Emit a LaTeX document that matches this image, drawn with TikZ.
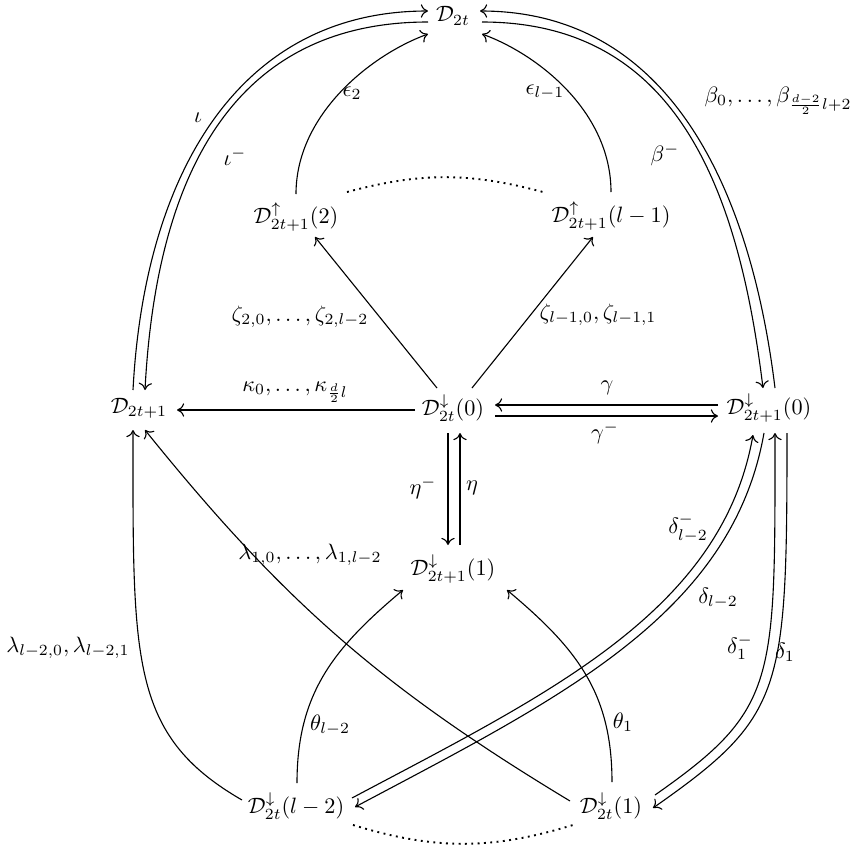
\documentclass[tikz,border=0pt]{standalone}
\usetikzlibrary{arrows.meta,calc}
\begin{document}
\begin{tikzpicture}[x=0.45pt,y=0.45pt,
  every node/.style={inner sep=0pt},
  arr/.style={-{Computer Modern Rightarrow[length=3.2pt,width=6pt]}, line width=0.5pt},
  dotarc/.style={dotted, line width=0.85pt},
]
\useasboundingbox (0,0) rectangle (863,-856);
% objects
\node (A)  at (453,-16)  {$\mathcal{D}_{2t}$};
\node (U2) at (296,-217) {$\mathcal{D}^{\uparrow}_{2t+1}(2)$};
\node (Ul) at (611,-216) {$\mathcal{D}^{\uparrow}_{2t+1}(l-1)$};
\node (L)  at (139,-408) {$\mathcal{D}_{2t+1}$};
\node (C)  at (453,-408) {$\mathcal{D}^{\downarrow}_{2t}(0)$};
\node (R)  at (769,-408) {$\mathcal{D}^{\downarrow}_{2t+1}(0)$};
\node (M)  at (453,-569) {$\mathcal{D}^{\downarrow}_{2t+1}(1)$};
\node (B2) at (296,-806) {$\mathcal{D}^{\downarrow}_{2t}(l-2)$};
\node (B1) at (611,-806) {$\mathcal{D}^{\downarrow}_{2t}(1)$};
% top arcs
\draw[arr] ($(L)+(-6,18)$) .. controls +(87:215) and +(180:190) .. ($(A)+(-25,5)$);
\draw[arr] ($(A)+(-25,-6)$) .. controls +(180:195) and +(87:215) .. ($(L)+(6,18)$);
\draw[arr] ($(U2)+(0,23)$) .. controls +(90:80) and +(-160:60) .. ($(A)+(-25,-18)$);
\draw[arr] ($(Ul)+(0,24)$) .. controls +(90:80) and +(-20:60) .. ($(A)+(29,-18)$);
\draw[arr] ($(R)+(6,20)$) .. controls +(97:200) and +(0:190) .. ($(A)+(27,5)$);
\draw[arr] ($(A)+(29,-6)$) .. controls +(0:195) and +(97:200) .. ($(R)+(-6,20)$);
\draw[dotarc] ($(U2)+(51,25)$) to[bend left=15] ($(Ul)+(-68,24)$);
% middle
\draw[arr] ($(C)+(-16,20)$) -- ($(U2)+(19,-20)$);
\draw[arr] ($(C)+(19,20)$) -- ($(Ul)+(-18,-21)$);
\draw[arr] ($(C)+(-38,-2)$) -- ($(L)+(38,-2)$);
\draw[arr] ($(R)+(-51,3)$) -- ($(C)+(42,3)$);
\draw[arr] ($(C)+(42,-8)$) -- ($(R)+(-51,-8)$);
\draw[arr] ($(M)+(7,24)$) -- ($(C)+(7,-25)$);
\draw[arr] ($(C)+(-5,-25)$) -- ($(M)+(-5,24)$);
% lower
\draw[arr] ($(B1)+(-41,5)$) to[bend left=10] ($(L)+(6,-22)$);
\draw[arr] ($(B2)+(-54,6)$) .. controls +(150:130) and +(-90:230) .. ($(L)+(-6,-22)$);
\draw[arr] ($(B2)+(1,23)$) .. controls +(90:90) and +(-140:90) .. ($(M)+(-50,-21)$);
\draw[arr] ($(B1)+(1,24)$) .. controls +(90:90) and +(-40:90) .. ($(M)+(54,-21)$);
\draw[arr] ($(B2)+(56,8)$) .. controls +(28:220) and +(-100:180) .. ($(R)+(-16,-27)$);
\draw[arr] ($(R)+(-5,-25)$) .. controls +(-100:185) and +(28:230) .. ($(B2)+(59,-1)$);
\draw[arr] ($(B1)+(44,11)$) .. controls +(35:150) and +(-90:250) .. ($(R)+(6,-25)$);
\draw[arr] ($(R)+(18,-25)$) .. controls +(-90:260) and +(35:160) .. ($(B1)+(42,-2)$);
\draw[dotarc] ($(B2)+(57,-19)$) to[bend right=17] ($(B1)+(-38,-19)$);
% labels
\node (liota)  at (198,-118) {$\iota$};
\node (liotam) at (235,-157) {$\iota^{-}$};
\node (leps2)  at (352,-93)  {$\epsilon_2$};
\node (lepsl)  at (545,-92)  {$\epsilon_{l-1}$};
\node (lbeta)  at (778,-101) {$\beta_0,\ldots,\beta_{\frac{d-2}{2}l+2}$};
\node (lbetam) at (665,-155) {$\beta^{-}$};
\node (lzeta2) at (300,-317) {$\zeta_{2,0},\ldots,\zeta_{2,l-2}$};
\node (lzetal) at (598,-315) {$\zeta_{l-1,0},\zeta_{l-1,1}$};
\node (lkappa) at (295,-392) {$\kappa_0,\ldots,\kappa_{\frac{d}{2}l}$};
\node (lgamma) at (607,-388) {$\gamma$};
\node (lgammam) at (605,-433) {$\gamma^{-}$};
\node (letam)  at (423,-488) {$\eta^{-}$};
\node (leta)   at (472,-488) {$\eta$};
\node (llam1)  at (310,-555) {$\lambda_{1,0},\ldots,\lambda_{1,l-2}$};
\node (llaml)  at (68,-648)  {$\lambda_{l-2,0},\lambda_{l-2,1}$};
\node (lthl)   at (330,-725) {$\theta_{l-2}$};
\node (lth1)   at (623,-722) {$\theta_1$};
\node (ldelm)  at (688,-528) {$\delta^{-}_{l-2}$};
\node (ldel)   at (718,-598) {$\delta_{l-2}$};
\node (ldel1m) at (740,-647) {$\delta^{-}_{1}$};
\node (ldel1)  at (785,-652) {$\delta_{1}$};
\end{tikzpicture}
\end{document}
